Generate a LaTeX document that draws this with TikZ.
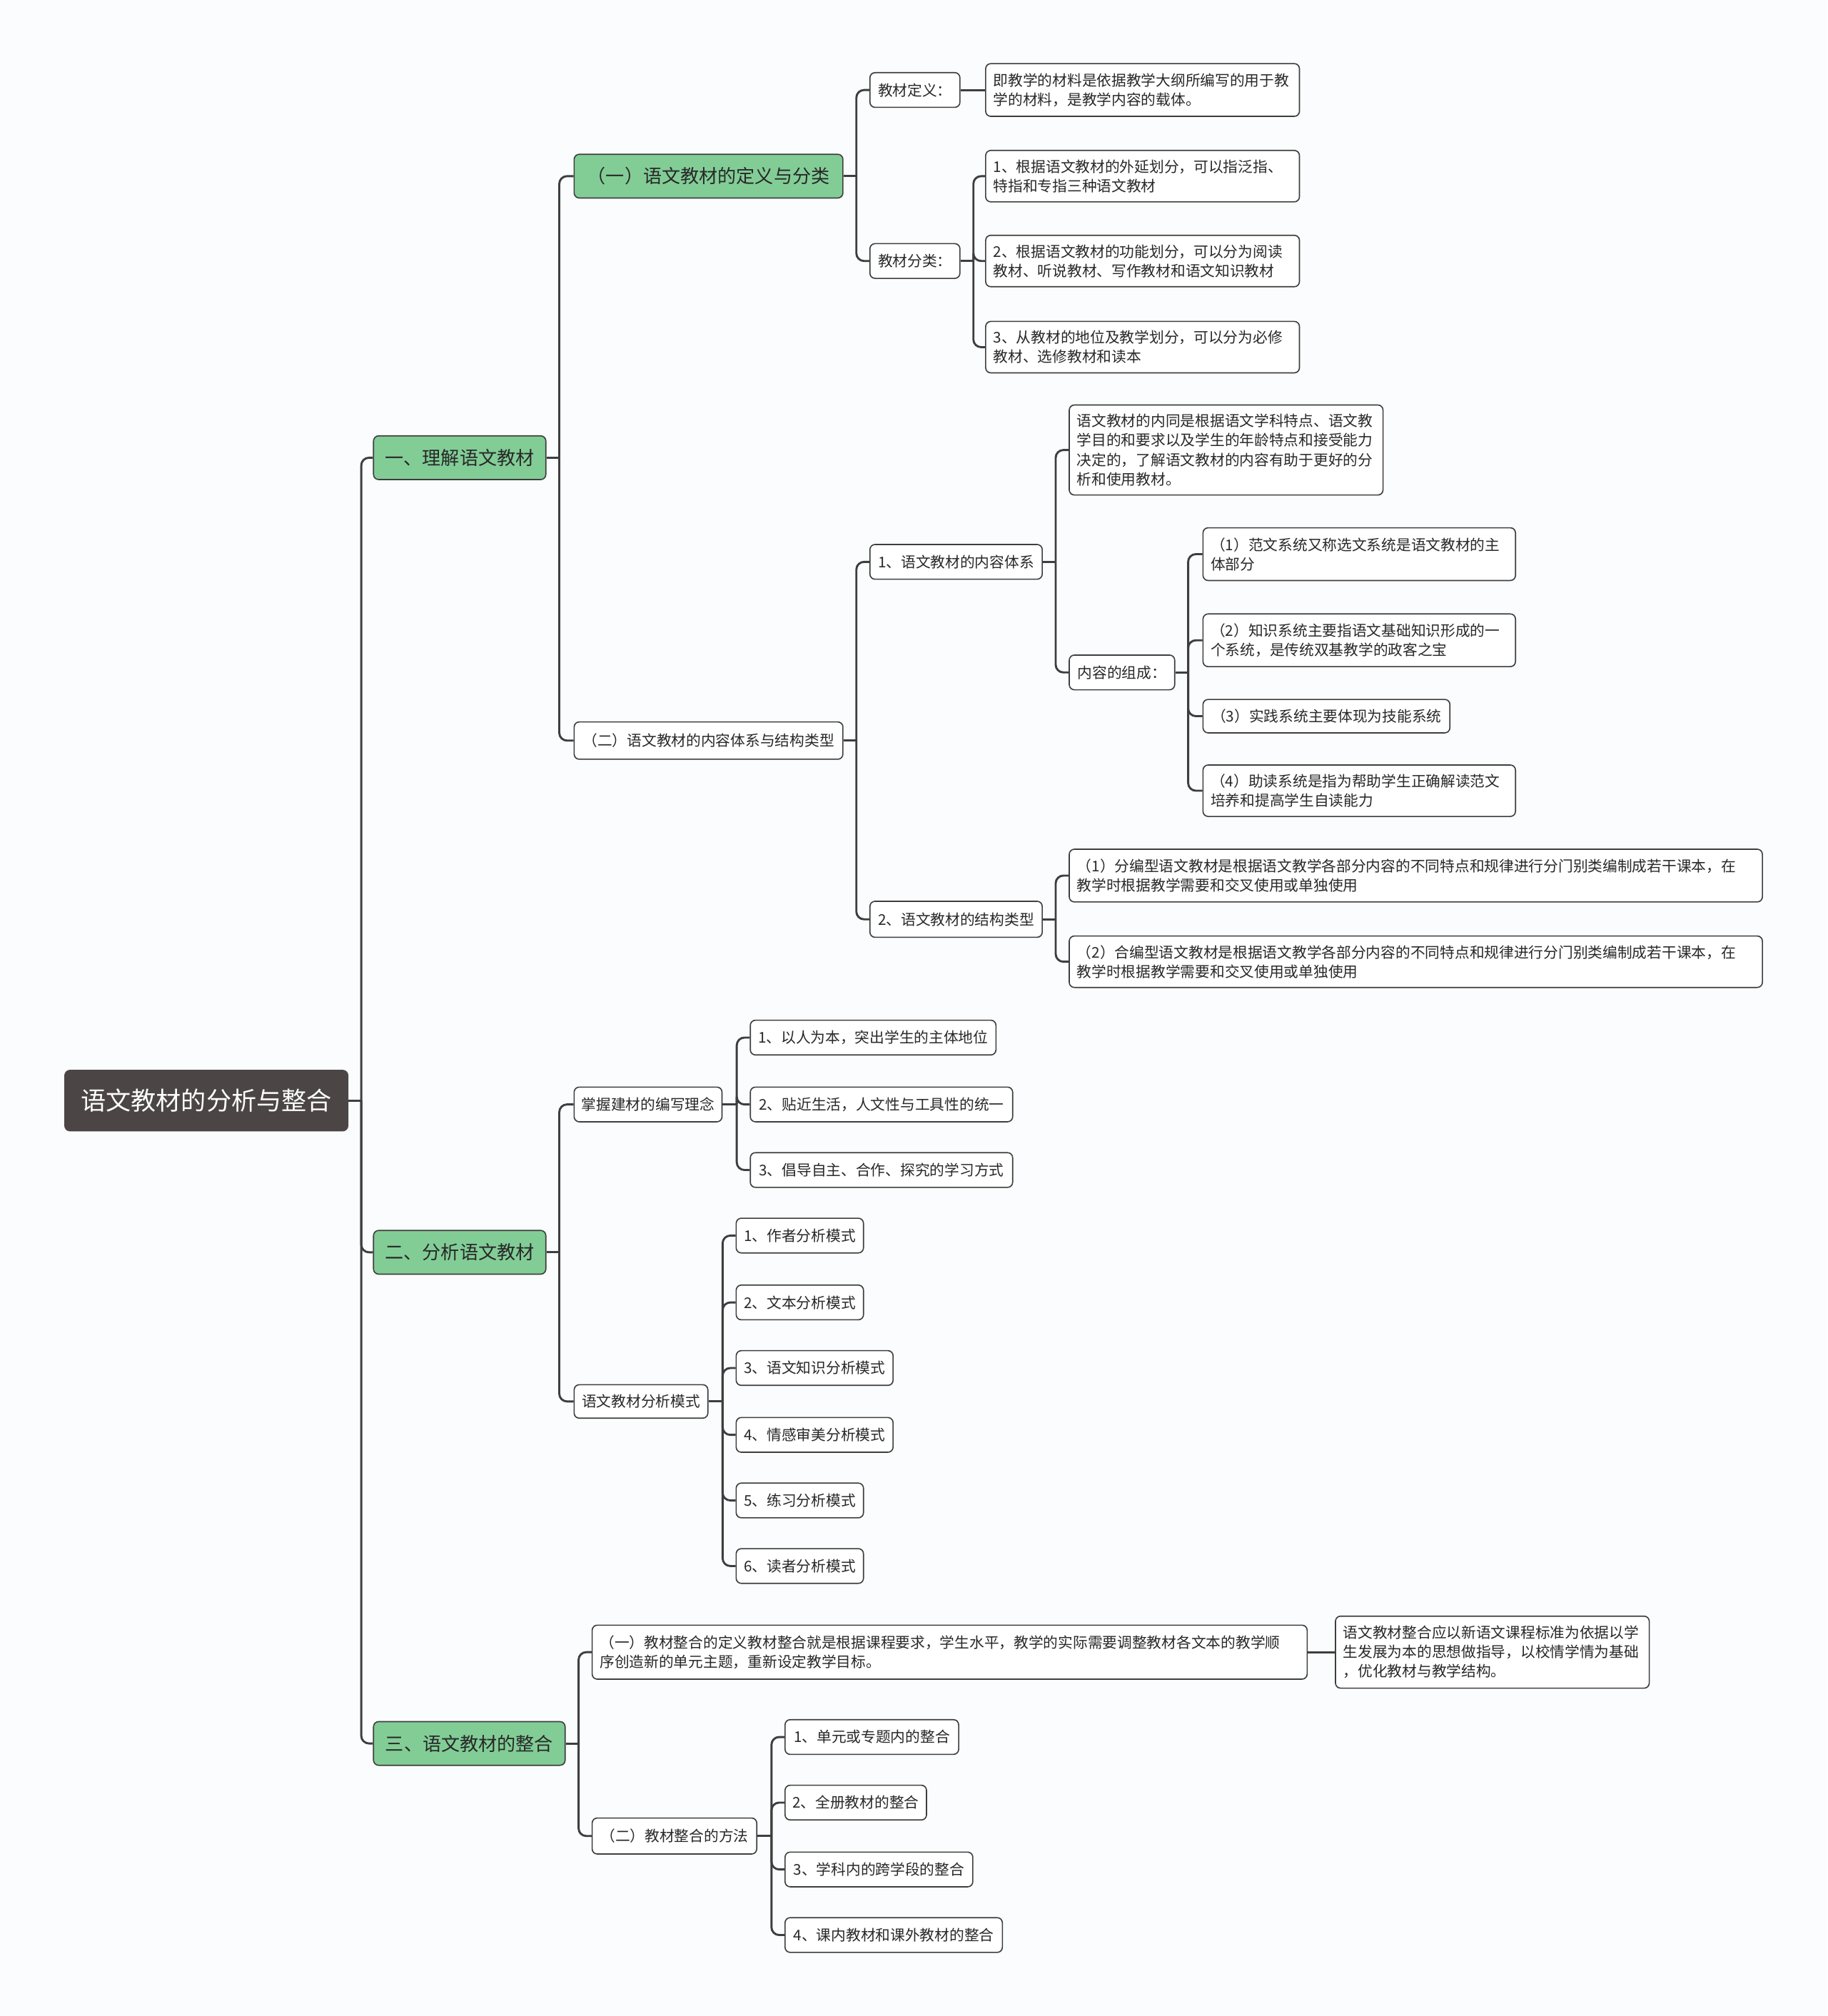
\documentclass[tikz,border=0pt]{standalone}
\usepackage{fontspec}
\setmainfont{Noto Sans CJK SC}
\definecolor{bg}{RGB}{250,252,253}
\definecolor{lc}{RGB}{62,62,62}
\definecolor{tc}{RGB}{40,40,40}
\definecolor{gr}{RGB}{130,205,150}
\definecolor{rt}{RGB}{75,69,70}
\newcommand{\fsm}{\fontsize{11.5}{15}\selectfont}
\newcommand{\fbg}{\fontsize{14.5}{18}\selectfont}
\newcommand{\frt}{\fontsize{19.5}{24}\selectfont}
\tikzset{
  box/.style={draw=lc, line width=0.9pt, rounded corners=4pt, fill=white, text=tc,
    font=\fsm, inner xsep=5pt, inner ysep=2pt, anchor=west, minimum height=27pt},
  greenbox/.style={box, fill=gr, font=\fbg, minimum height=34pt},
  rootbox/.style={box, fill=rt, draw=rt, text=white, font=\frt, minimum height=47pt},
  ml/.style={align=left, inner xsep=6pt, text width=#1},
  conn/.style={draw=lc, line width=1.6pt, rounded corners=6pt},
}
\begin{document}
\begin{tikzpicture}[x=1pt, y=-1pt]
\path[fill=bg] (0,0) rectangle (1421,1568);
\useasboundingbox (0,0) rectangle (1421,1568);

% root and level 1
\node[rootbox, minimum width=220] (root) at (50,856) {语文教材的分析与整合};
\node[greenbox, minimum width=134] (La) at (290,356) {一、理解语文教材};
\node[greenbox, minimum width=134] (Lb) at (290,974) {二、分析语文教材};
\node[greenbox, minimum width=149] (Lc) at (290,1356) {三、语文教材的整合};

% branch one
\node[greenbox, minimum width=209] (A1) at (446,137) {（一）语文教材的定义与分类};
\node[box, minimum width=209, minimum height=29] (A2) at (446,576) {（二）语文教材的内容体系与结构类型};

\node[box, minimum width=70] (A1a) at (676,70) {教材定义：};
\node[box, minimum width=70] (A1b) at (676,203) {教材分类：};
\node[box, ml=232pt, minimum height=41] (A1a1) at (766,70) {即教学的材料是依据教学大纲所编写的用于教\\学的材料，是教学内容的载体。};
\node[box, ml=232pt, minimum height=40] (A1b1) at (766,137) {1、根据语文教材的外延划分，可以指泛指、\\特指和专指三种语文教材};
\node[box, ml=232pt, minimum height=40] (A1b2) at (766,203) {2、根据语文教材的功能划分，可以分为阅读\\教材、听说教材、写作教材和语文知识教材};
\node[box, ml=232pt, minimum height=40] (A1b3) at (766,270) {3、从教材的地位及教学划分，可以分为必修\\教材、选修教材和读本};

\node[box, minimum width=134] (A2a) at (676,437) {1、语文教材的内容体系};
\node[box, minimum width=134, minimum height=28] (A2b) at (676,715) {2、语文教材的结构类型};
\node[box, ml=232pt, minimum height=70] (A2a1) at (831,350) {语文教材的内同是根据语文学科特点、语文教\\学目的和要求以及学生的年龄特点和接受能力\\决定的，了解语文教材的内容有助于更好的分\\析和使用教材。};
\node[box, minimum width=82] (A2a2) at (831,523) {内容的组成：};
\node[box, ml=231pt, minimum height=41] (X1) at (935,431) {（1）范文系统又称选文系统是语文教材的主\\体部分};
\node[box, ml=231pt, minimum height=41] (X2) at (935,498) {（2）知识系统主要指语文基础知识形成的一\\个系统，是传统双基教学的政客之宝};
\node[box, minimum width=192, minimum height=26] (X3) at (935,557) {（3）实践系统主要体现为技能系统};
\node[box, ml=231pt, minimum height=40] (X4) at (935,615) {（4）助读系统是指为帮助学生正确解读范文\\培养和提高学生自读能力};
\node[box, ml=527pt, minimum height=41] (A2b1) at (831,681) {（1）分编型语文教材是根据语文教学各部分内容的不同特点和规律进行分门别类编制成若干课本，在\\教学时根据教学需要和交叉使用或单独使用};
\node[box, ml=527pt, minimum height=40] (A2b2) at (831,748) {（2）合编型语文教材是根据语文教学各部分内容的不同特点和规律进行分门别类编制成若干课本，在\\教学时根据教学需要和交叉使用或单独使用};

% branch two
\node[box, minimum width=115] (B1) at (446,859) {掌握建材的编写理念};
\node[box, minimum width=104, minimum height=26] (B2) at (446,1090) {语文教材分析模式};
\node[box, minimum width=191] (B11) at (583,807) {1、以人为本，突出学生的主体地位};
\node[box, minimum width=204] (B12) at (583,859) {2、贴近生活，人文性与工具性的统一};
\node[box, minimum width=204] (B13) at (583,910) {3、倡导自主、合作、探究的学习方式};
\node[box, minimum width=99] (B21) at (572,961) {1、作者分析模式};
\node[box, minimum width=99] (B22) at (572,1013) {2、文本分析模式};
\node[box, minimum width=122] (B23) at (572,1064) {3、语文知识分析模式};
\node[box, minimum width=122] (B24) at (572,1116) {4、情感审美分析模式};
\node[box, minimum width=99] (B25) at (572,1167) {5、练习分析模式};
\node[box, minimum width=99] (B26) at (572,1218) {6、读者分析模式};

% branch three
\node[box, ml=544pt, minimum height=42] (C1) at (460,1285) {（一）教材整合的定义教材整合就是根据课程要求，学生水平，教学的实际需要调整教材各文本的教学顺\\序创造新的单元主题，重新设定教学目标。};
\node[box, ml=232pt, minimum height=56] (C1a) at (1038,1285) {语文教材整合应以新语文课程标准为依据以学\\生发展为本的思想做指导，以校情学情为基础\\，优化教材与教学结构。};
\node[box, minimum width=128, minimum height=28] (C2) at (460,1428) {（二）教材整合的方法};
\node[box, minimum width=135] (C21) at (610,1351) {1、单元或专题内的整合};
\node[box, minimum width=110] (C22) at (610,1402) {2、全册教材的整合};
\node[box, minimum width=146] (C23) at (610,1454) {3、学科内的跨学段的整合};
\node[box, minimum width=169] (C24) at (610,1505) {4、课内教材和课外教材的整合};

% connectors
\draw[conn] (root.east) -- ++(10,0);
\foreach \c in {La,Lb,Lc} \draw[conn] (root.east) ++(10,0) |- (\c.west);

\draw[conn] (La.east) -- ++(10,0);
\foreach \c in {A1,A2} \draw[conn] (La.east) ++(10,0) |- (\c.west);

\draw[conn] (A1.east) -- ++(10,0);
\foreach \c in {A1a,A1b} \draw[conn] (A1.east) ++(10,0) |- (\c.west);
\draw[conn] (A1a.east) -- (A1a1.west);
\draw[conn] (A1b.east) -- ++(10,0);
\foreach \c in {A1b1,A1b2,A1b3} \draw[conn] (A1b.east) ++(10,0) |- (\c.west);

\draw[conn] (A2.east) -- ++(10,0);
\foreach \c in {A2a,A2b} \draw[conn] (A2.east) ++(10,0) |- (\c.west);
\draw[conn] (A2a.east) -- ++(10,0);
\foreach \c in {A2a1,A2a2} \draw[conn] (A2a.east) ++(10,0) |- (\c.west);
\draw[conn] (A2a2.east) -- ++(10,0);
\foreach \c in {X1,X2,X3,X4} \draw[conn] (A2a2.east) ++(10,0) |- (\c.west);
\draw[conn] (A2b.east) -- ++(10,0);
\foreach \c in {A2b1,A2b2} \draw[conn] (A2b.east) ++(10,0) |- (\c.west);

\draw[conn] (Lb.east) -- ++(10,0);
\foreach \c in {B1,B2} \draw[conn] (Lb.east) ++(10,0) |- (\c.west);
\draw[conn] (B1.east) -- ++(11,0);
\foreach \c in {B11,B12,B13} \draw[conn] (B1.east) ++(11,0) |- (\c.west);
\draw[conn] (B2.east) -- ++(11,0);
\foreach \c in {B21,B22,B23,B24,B25,B26} \draw[conn] (B2.east) ++(11,0) |- (\c.west);

\draw[conn] (Lc.east) -- ++(10,0);
\foreach \c in {C1,C2} \draw[conn] (Lc.east) ++(10,0) |- (\c.west);
\draw[conn] (C1.east) -- (C1a.west);
\draw[conn] (C2.east) -- ++(11,0);
\foreach \c in {C21,C22,C23,C24} \draw[conn] (C2.east) ++(11,0) |- (\c.west);
\end{tikzpicture}
\end{document}
